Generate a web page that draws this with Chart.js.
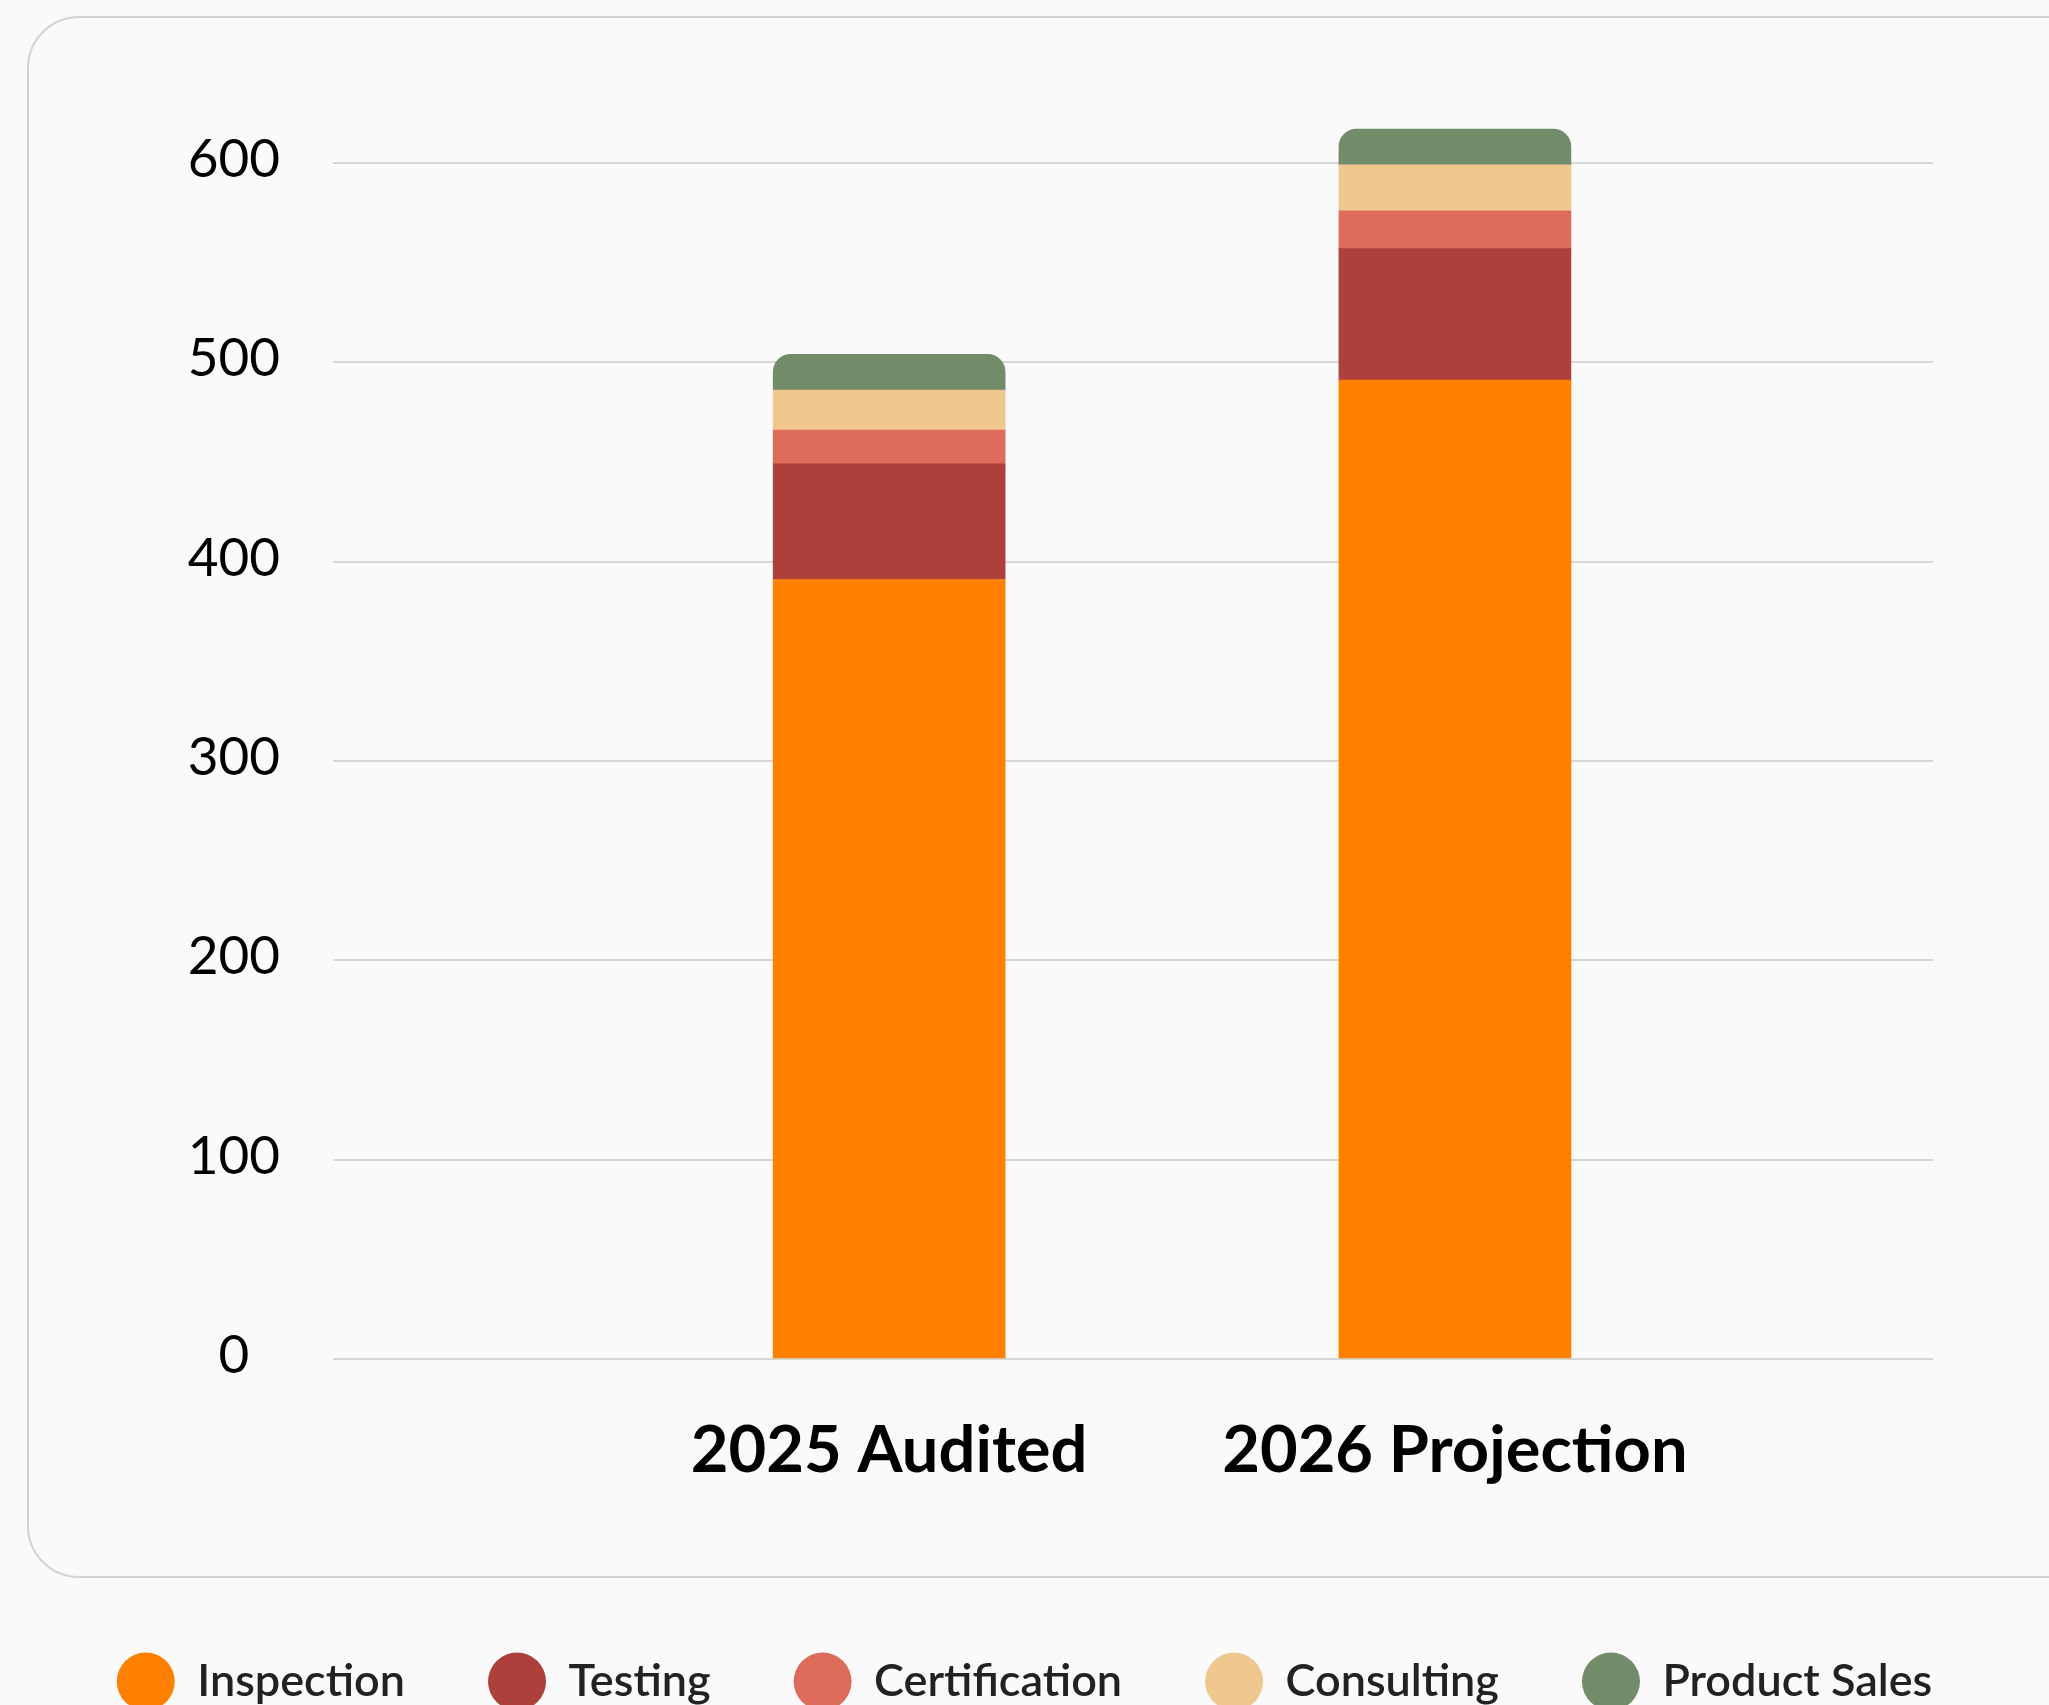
<!DOCTYPE html>
<html>
<head>
<meta charset="utf-8">
<script src="https://cdn.jsdelivr.net/npm/chart.js@4.4.1/dist/chart.umd.min.js"></script>
<style>
  html, body { margin: 0; padding: 0; background: #fafafa; overflow: hidden; width: 2049px; height: 1705px; }
  .card {
    position: absolute; left: 27px; top: 16px; width: 2120px; height: 1562px;
    border: 2px solid #d3d3d3; border-radius: 52px; box-sizing: border-box; background: #fafafa;
  }
  .wrap { position: absolute; left: 0; top: 0; width: 2049px; height: 1714px; }
</style>
</head>
<body>
<div class="card"></div>
<div class="wrap"><canvas id="revenue"></canvas></div>
<script>
/* ── Data ─────────────────────────────────────────────────────────────── */
const CATEGORIES    = ['2025 Audited', '2026 Projection'];
const INSPECTION    = [391, 491];
const TESTING       = [58, 66];
const CERTIFICATION = [17, 19];
const CONSULTING    = [20, 23];
const PRODUCT_SALES = [18, 18];
const Y_TICKS       = [0, 100, 200, 300, 400, 500, 600];

/* ── Palette ──────────────────────────────────────────────────────────── */
const C = {
  inspection:    '#ff7f00',
  testing:       '#ae403c',
  certification: '#dd6c5b',
  consulting:    '#efc78f',
  productSales:  '#728b69',
  grid:          '#d6d6d6',
};

const FONT = 'Lato, "Noto Sans", sans-serif';

function series(label, values, color, extra) {
  return Object.assign({
    label,
    data: values.map((v, i) => ({ x: i + 1, y: v })),
    backgroundColor: color,
    borderWidth: 0,
    barThickness: 232,
  }, extra || {});
}

new Chart(document.getElementById('revenue'), {
  type: 'bar',
  data: {
    datasets: [
      series('Inspection',    INSPECTION,    C.inspection),
      series('Testing',       TESTING,       C.testing),
      series('Certification', CERTIFICATION, C.certification),
      series('Consulting',    CONSULTING,    C.consulting),
      // only the top of each stack gets rounded corners
      series('Product Sales', PRODUCT_SALES, C.productSales, { borderRadius: 27 }),
    ],
  },
  options: {
    responsive: true,
    maintainAspectRatio: false,
    devicePixelRatio: 1,
    animation: false,
    layout: { padding: { top: 123, right: 0, left: 0, bottom: 0 } },
    scales: {
      x: {
        type: 'linear',
        stacked: true,
        min: 0.017,
        max: 2.845,
        offset: false,
        grid: { display: false, drawTicks: false },
        border: { display: false },
        afterBuildTicks(scale) {
          scale.ticks = CATEGORIES.map((_, i) => ({ value: i + 1 }));
        },
        afterFit(scale) { scale.height = 217; },
        ticks: {
          padding: 53,
          color: '#000',
          font: { family: FONT, size: 65, weight: 'bold' },
          maxRotation: 0,
          autoSkip: false,
          callback: (v) => CATEGORIES[v - 1],
        },
      },
      y: {
        stacked: true,
        min: 0,
        max: 620,
        grid: { color: C.grid, lineWidth: 2, drawTicks: false },
        border: { display: false },
        afterBuildTicks(scale) {
          scale.ticks = Y_TICKS.map(v => ({ value: v }));
        },
        afterFit(scale) { scale.width = 333; },
        ticks: {
          padding: 53,
          crossAlign: 'center',
          labelOffset: -3,
          color: '#000',
          font: { family: FONT, size: 53 },
        },
      },
      // empty right gutter so the legend can use the full width
      gutter: {
        type: 'linear',
        position: 'right',
        display: true,
        grid: { display: false, drawTicks: false },
        border: { display: false },
        ticks: { display: false },
        afterFit(scale) { scale.width = 116; },
      },
    },
    plugins: {
      tooltip: { enabled: false },
      legend: {
        position: 'bottom',
        labels: {
          usePointStyle: true,
          pointStyle: 'circle',
          pointStyleWidth: 58,
          boxHeight: 41,
          padding: 83,
          color: '#222',
          font: { family: FONT, size: 45, weight: '600' },
        },
      },
    },
  },
});
</script>
</body>
</html>
